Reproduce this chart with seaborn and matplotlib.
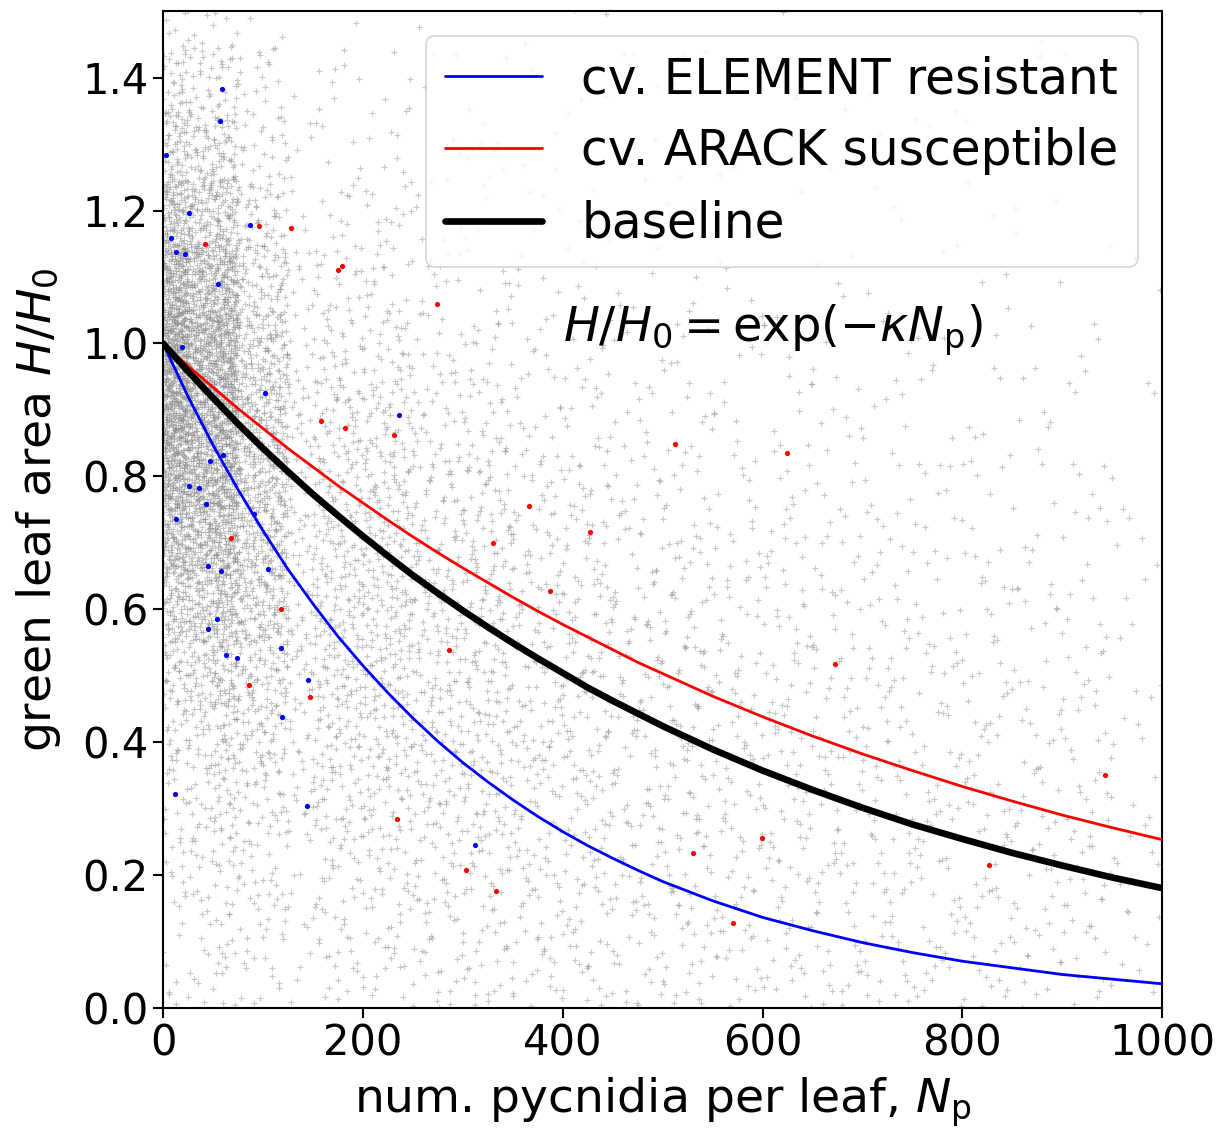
import numpy as np
import pandas as pd
import matplotlib
matplotlib.use("Agg")
import matplotlib.pyplot as plt
import seaborn as sns

# ---- data ----

# grey cloud: point counts per cell (columns = pycnidia bins, rows = H/H0 bins 0.0..1.5 step 0.1)
cloud_x_edges = [0, 50, 100, 200, 300, 400, 500, 600, 700, 800, 900, 1000]
cloud_y_edges = [0.0, 0.1, 0.2, 0.3, 0.4, 0.5, 0.6, 0.7, 0.8, 0.9, 1.0, 1.1, 1.2, 1.3, 1.4, 1.5]
cloud_counts = [
    [12, 15, 22, 32, 50, 100, 190, 300, 420, 480, 420, 270, 150, 75, 40],  # 0-50
    [15, 20, 28, 40, 60, 125, 180, 220, 230, 200, 150, 95, 55, 28, 14],    # 50-100
    [22, 35, 55, 85, 115, 130, 135, 125, 115, 95, 65, 40, 25, 15, 10],     # 100-200
    [30, 45, 60, 75, 90, 95, 95, 85, 65, 45, 28, 18, 12, 8, 6],            # 200-300
    [32, 42, 50, 60, 65, 65, 60, 50, 35, 25, 15, 10, 7, 5, 4],             # 300-400
    [30, 36, 42, 46, 48, 45, 40, 32, 22, 16, 10, 7, 5, 4, 3],              # 400-500
    [28, 32, 34, 36, 36, 33, 28, 22, 15, 11, 7, 5, 4, 3, 3],               # 500-600
    [25, 28, 30, 31, 30, 27, 22, 17, 12, 9, 6, 4, 3, 3, 2],                # 600-700
    [23, 26, 27, 27, 25, 22, 18, 14, 10, 8, 5, 4, 3, 2, 2],                # 700-800
    [21, 23, 24, 23, 21, 18, 15, 11, 8, 6, 4, 3, 3, 2, 2],                 # 800-900
    [19, 21, 21, 20, 18, 15, 12, 9, 7, 5, 4, 3, 2, 2, 2],                  # 900-1000
]

# cv. ELEMENT (resistant) leaves
element_np = [59, 57, 3, 26, 87, 8, 13, 22, 55, 19, 102, 236, 60, 47, 26, 36,
              43, 91, 13, 45, 58, 105, 45, 54, 63, 74, 118, 119, 145, 12, 144, 312]
element_h = [1.383, 1.335, 1.283, 1.197, 1.179, 1.159, 1.138, 1.134, 1.089, 0.994,
             0.925, 0.893, 0.832, 0.823, 0.785, 0.783, 0.758, 0.743, 0.735, 0.665,
             0.657, 0.660, 0.570, 0.585, 0.531, 0.526, 0.541, 0.438, 0.493, 0.322,
             0.304, 0.245]

# cv. ARACK (susceptible) leaves
arack_np = [96, 128, 42, 175, 179, 274, 158, 182, 231, 68, 118, 286, 86, 147, 234,
            303, 333, 512, 624, 366, 427, 330, 387, 672, 943, 599, 530, 827, 570]
arack_h = [1.177, 1.174, 1.149, 1.111, 1.117, 1.060, 0.884, 0.872, 0.862, 0.707,
           0.600, 0.538, 0.486, 0.468, 0.284, 0.208, 0.176, 0.848, 0.835, 0.755,
           0.716, 0.699, 0.627, 0.517, 0.350, 0.256, 0.233, 0.215, 0.128]

# fitted curves
curve_np = [0, 25, 50, 75, 100, 125, 150, 175, 200, 225, 250, 275, 300, 325, 350,
            375, 400, 425, 450, 475, 500, 550, 600, 650, 700, 750, 800, 850, 900, 950, 1000]
curve_element = [1.000, 0.920, 0.847, 0.780, 0.718, 0.660, 0.608, 0.559, 0.515, 0.474,
                 0.436, 0.401, 0.369, 0.340, 0.313, 0.288, 0.265, 0.244, 0.225, 0.207,
                 0.190, 0.161, 0.136, 0.116, 0.098, 0.083, 0.070, 0.060, 0.050, 0.043, 0.036]
curve_arack = [1.000, 0.966, 0.934, 0.902, 0.872, 0.842, 0.814, 0.786, 0.760, 0.734,
               0.709, 0.685, 0.662, 0.640, 0.618, 0.597, 0.577, 0.558, 0.539, 0.520,
               0.503, 0.469, 0.438, 0.409, 0.382, 0.357, 0.333, 0.311, 0.290, 0.271, 0.253]
curve_baseline = [1.000, 0.958, 0.918, 0.879, 0.842, 0.807, 0.773, 0.741, 0.710, 0.680,
                  0.651, 0.624, 0.598, 0.573, 0.549, 0.526, 0.504, 0.482, 0.462, 0.443,
                  0.424, 0.389, 0.357, 0.328, 0.301, 0.276, 0.254, 0.233, 0.214, 0.196, 0.180]


def halton(idx, base):
    out = np.zeros(len(idx))
    f = 1.0
    i = idx.copy()
    while np.any(i > 0):
        f /= base
        out += f * (i % base)
        i //= base
    return out


# spread the counted points over each cell (Halton sequence, no randomness);
# each cell reaches half a cell into its neighbours so the block edges do not show
def cloud_points(spread=0.5):
    xs, ys = [], []
    k = 1
    for i, col in enumerate(cloud_counts):
        x0, x1 = cloud_x_edges[i], cloud_x_edges[i + 1]
        w = x1 - x0
        for j, n in enumerate(col):
            y0, y1 = cloud_y_edges[j], cloud_y_edges[j + 1]
            h = y1 - y0
            idx = np.arange(k, k + n)
            k += n
            u = halton(idx, 2)
            v = halton(idx, 3)
            xs.append(np.abs(x0 - spread * w + u * w * (1 + 2 * spread)))
            ys.append(np.abs(y0 - spread * h + v * h * (1 + 2 * spread)))
    return pd.DataFrame({"Np": np.concatenate(xs), "H": np.concatenate(ys)})


sns.set_theme(style="ticks")
plt.rcParams["font.family"] = ["DejaVu Sans"]
plt.rcParams["mathtext.fontset"] = "dejavusans"
plt.rcParams["text.color"] = "black"
plt.rcParams["axes.labelcolor"] = "black"

fig = plt.figure(figsize=(12.26, 11.31), dpi=100)
ax = fig.add_axes([0.133, 0.109, 0.815, 0.881])

cloud = cloud_points()
sns.scatterplot(data=cloud, x="Np", y="H", ax=ax, marker="+", color="0.5",
                s=13, linewidth=0.85, alpha=0.42, legend=False)

sns.scatterplot(x=element_np, y=element_h, ax=ax, color="blue", s=14,
                linewidth=0, legend=False, zorder=3)
sns.scatterplot(x=arack_np, y=arack_h, ax=ax, color="red", s=14,
                linewidth=0, legend=False, zorder=3)

sns.lineplot(x=curve_np, y=curve_element, ax=ax, color="blue", linewidth=2.0,
             estimator=None, sort=False, label="cv. ELEMENT resistant", zorder=4)
sns.lineplot(x=curve_np, y=curve_arack, ax=ax, color="red", linewidth=2.0,
             estimator=None, sort=False, label="cv. ARACK susceptible", zorder=4)
sns.lineplot(x=curve_np, y=curve_baseline, ax=ax, color="black", linewidth=4.8,
             estimator=None, sort=False, label="baseline", zorder=4)

ax.text(400, 1.02, r"$H/H_0 = \exp(-\kappa N_\mathrm{p})$", fontsize=34.5,
        va="center", ha="left")

ax.set_xlim(0, 1000)
ax.set_ylim(0, 1.5)
ax.set_xticks([0, 200, 400, 600, 800, 1000])
ax.set_yticks([0.0, 0.2, 0.4, 0.6, 0.8, 1.0, 1.2, 1.4])
ax.set_xlabel(r"num. pycnidia per leaf, $N_\mathrm{p}$", fontsize=34, labelpad=8)
ax.set_ylabel(r"green leaf area $H/H_0$", fontsize=34, labelpad=14)
ax.tick_params(labelsize=30, length=7, width=1.5, colors="black", direction="out")
for sp in ax.spines.values():
    sp.set_color("black")
    sp.set_linewidth(1.5)

leg = ax.legend(loc="upper right", fontsize=35, frameon=True, fancybox=True,
                framealpha=0.8, edgecolor="0.8")
leg.get_frame().set_linewidth(1.2)

fig.savefig("out.png", dpi=100)
